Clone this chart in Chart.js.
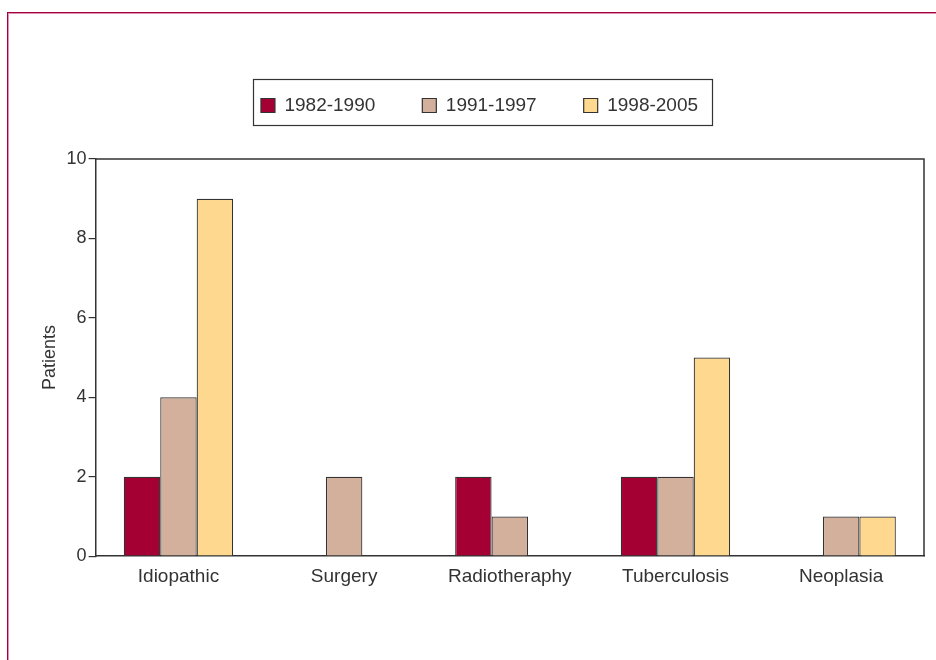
<!DOCTYPE html>
<html>
<head>
<meta charset="utf-8">
<script src="https://cdn.jsdelivr.net/npm/chart.js@4.4.1/dist/chart.umd.min.js"></script>
<style>
  html, body { margin: 0; padding: 0; background: #fff; }
  #wrap { position: relative; width: 936px; height: 660px; overflow: hidden; }
  #frame1 { position: absolute; left: 7px; top: 12px; width: 960px; height: 700px;
            border-top: 1px solid #a3003f; border-left: 1px solid #a3003f; }
  #frame2 { position: absolute; left: 8px; top: 13px; width: 960px; height: 700px;
            border-top: 1px solid #e58fb0; border-left: 1px solid #e58fb0; }
  #c { position: absolute; left: 0; top: 0; }
</style>
</head>
<body>
<div id="wrap">
  <div id="frame1"></div>
  <div id="frame2"></div>
  <canvas id="c" width="936" height="660"></canvas>
</div>
<script>
const categories = ['Idiopathic', 'Surgery', 'Radiotheraphy', 'Tuberculosis', 'Neoplasia'];
const seriesNames = ['1982-1990', '1991-1997', '1998-2005'];
const values1982 = [2, 0, 2, 2, 0];
const values1991 = [4, 2, 1, 2, 1];
const values1998 = [9, 0, 0, 5, 1];
const seriesColors = ['#a50034', '#d2b09c', '#fed88e'];
const yTicks = [0, 2, 4, 6, 8, 10];

const FONT = "'Liberation Sans Narrow', 'Arial Narrow', 'Liberation Sans', Arial, sans-serif";
const TEXT = '#333333';
const LINE = '#333333';

const legendExtra = {
  id: 'legendExtra',
  beforeLayout(chart) {
    const lg = chart.legend;
    if (lg && !lg._patched) {
      const orig = lg.fit;
      lg.fit = function () { orig.call(this); this.height += 34; };
      lg._patched = true;
    }
  },
  afterDraw(chart) {
    const ctx = chart.ctx;
    const lg = chart.legend;
    const hb = lg.legendHitBoxes;
    if (hb && hb.length) {
      const first = hb[0], last = hb[hb.length - 1];
      const cy = first.top + first.height / 2;
      const x0 = Math.round(first.left - 8) + 0.5;
      const x1 = Math.round(last.left + last.width + 14) + 0.5;
      const y0 = Math.round(cy - 27) + 0.5;
      const y1 = Math.round(cy + 19) + 0.5;
      ctx.save();
      ctx.strokeStyle = LINE;
      ctx.lineWidth = 1.2;
      ctx.strokeRect(x0, y0, x1 - x0, y1 - y0);
      ctx.restore();
    }
    const a = chart.chartArea;
    ctx.save();
    ctx.strokeStyle = LINE;
    ctx.lineWidth = 1.5;
    ctx.beginPath();
    ctx.moveTo(a.left, a.top);
    ctx.lineTo(a.right, a.top);
    ctx.lineTo(a.right, a.bottom);
    ctx.stroke();
    ctx.restore();
  }
};

new Chart(document.getElementById('c'), {
  type: 'bar',
  data: {
    labels: categories,
    datasets: [
      { label: seriesNames[0], data: values1982, backgroundColor: seriesColors[0] },
      { label: seriesNames[1], data: values1991, backgroundColor: seriesColors[1] },
      { label: seriesNames[2], data: values1998, backgroundColor: seriesColors[2] }
    ].map(d => Object.assign(d, { borderColor: LINE, borderWidth: 1.2, borderSkipped: 'bottom',
                                  barPercentage: 1, categoryPercentage: 0.66 }))
  },
  options: {
    responsive: false,
    animation: false,
    devicePixelRatio: 1,
    layout: { padding: { left: 35, right: 12, top: 49, bottom: 63 } },
    plugins: {
      legend: {
        display: true,
        position: 'top',
        labels: {
          boxWidth: 14, boxHeight: 14, padding: 47,
          color: TEXT,
          font: { family: FONT, size: 19 }
        }
      },
      tooltip: { enabled: false },
      title: { display: false }
    },
    scales: {
      x: {
        grid: { display: false, drawTicks: false },
        border: { display: true, color: LINE, width: 1.5 },
        ticks: { color: TEXT, padding: 9, font: { family: FONT, size: 19 } }
      },
      y: {
        min: 0, max: 10,
        afterBuildTicks(axis) { axis.ticks = yTicks.map(v => ({ value: v })); },
        grid: { display: true, drawOnChartArea: false, drawTicks: true, tickLength: 7, color: LINE, lineWidth: 1.2 },
        border: { display: true, color: LINE, width: 1.5 },
        ticks: { color: TEXT, padding: 2, font: { family: FONT, size: 18 } },
        title: { display: true, text: 'Patients', color: TEXT, padding: { top: 4, bottom: 4 },
                 font: { family: FONT, size: 18 } }
      }
    }
  },
  plugins: [legendExtra]
});
</script>
</body>
</html>
